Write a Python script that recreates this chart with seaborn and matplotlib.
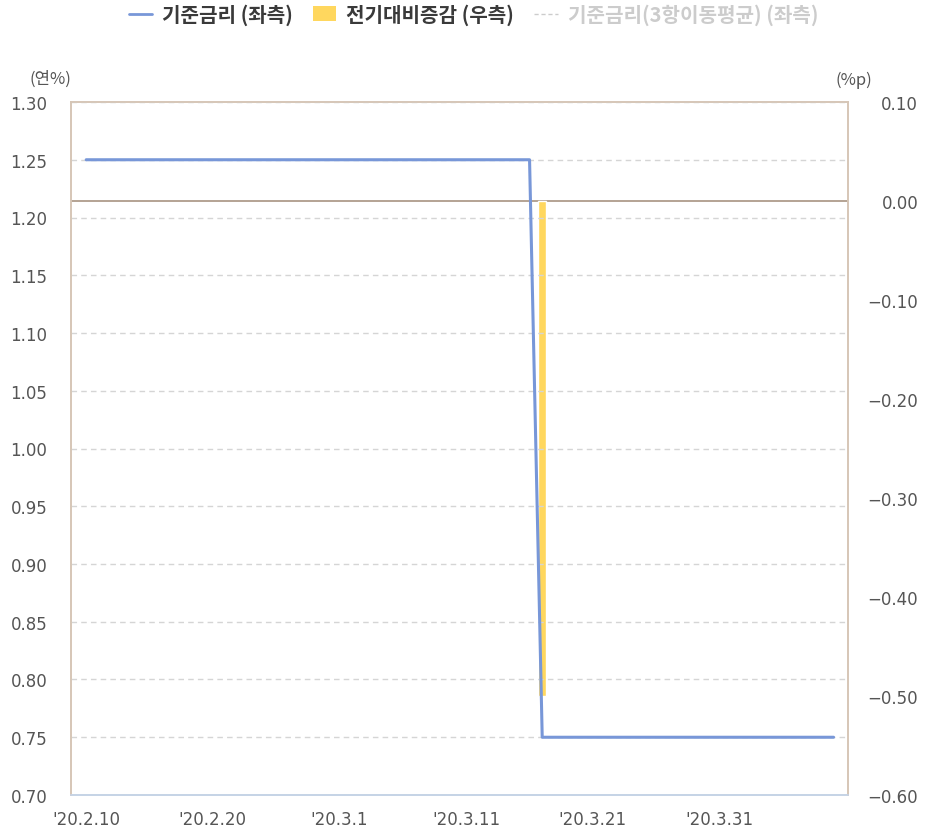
import matplotlib
matplotlib.use("Agg")
import matplotlib.pyplot as plt
from matplotlib.lines import Line2D
from matplotlib.patches import Patch
import pandas as pd
import seaborn as sns

# Base rate (daily), left axis, % per year
dates = pd.date_range("2020-02-10", "2020-04-09", freq="D")
base_rate = [1.25] * 36 + [0.75] * 24

# Change vs previous period, right axis, %p
change_dates = pd.to_datetime(["2020-03-17"])
change_values = [-0.50]

x_tick_dates = pd.to_datetime(["2020-02-10", "2020-02-20", "2020-03-01", "2020-03-11",
                               "2020-03-21", "2020-03-31", "2020-04-10"])
x_tick_labels = ["'20.2.10", "'20.2.20", "'20.3.1", "'20.3.11", "'20.3.21", "'20.3.31", ""]
left_ticks = [0.70, 0.75, 0.80, 0.85, 0.90, 0.95, 1.00, 1.05, 1.10, 1.15, 1.20, 1.25, 1.30]
right_ticks = [0.10, 0.00, -0.10, -0.20, -0.30, -0.40, -0.50, -0.60]

legend_labels = ["기준금리 (좌측)", "전기대비증감 (우측)", "기준금리(3항이동평균) (좌측)"]

sns.set_theme(style="white")
plt.rcParams["font.family"] = ["DejaVu Sans", "Noto Sans CJK KR"]
plt.rcParams["axes.unicode_minus"] = True

LINE_C = "#7897d8"
BAR_C = "#ffd75e"
FRAME_C = "#d6c6b6"
TICK_C = "#555555"

fig = plt.figure(figsize=(9.25, 8.29), dpi=100)
ax = fig.add_axes([71 / 925, 1 - 796 / 829, (848 - 71) / 925, (796 - 103) / 829])
ax2 = ax.twinx()

df = pd.DataFrame({"date": dates, "rate": base_rate})
dfc = pd.DataFrame({"date": change_dates, "change": change_values})

# Bars on the right axis
ax2.bar(dfc["date"], dfc["change"], width=0.6, color=BAR_C, zorder=2)
ax2.axhline(0, color="#a89482", lw=1.2, zorder=1)

# Line on the left axis, drawn above the bars
ax.set_zorder(ax2.get_zorder() + 1)
ax.patch.set_visible(False)
ax2.set_facecolor("#fafafa")
sns.lineplot(data=df, x="date", y="rate", ax=ax, color=LINE_C, lw=2.2, zorder=3)

start = pd.Timestamp("2020-02-10")
ax.set_xlim(start - pd.Timedelta(days=1.2), start + pd.Timedelta(days=60.14))
ax.set_ylim(0.70, 1.30)
ax2.set_ylim(-0.60, 0.10)

ax.set_yticks(left_ticks)
ax.set_yticklabels([f"{v:.2f}" for v in left_ticks])
ax2.set_yticks(right_ticks)
ax2.set_yticklabels([f"{v:.2f}".replace("-", "\u2212") for v in right_ticks], ha="right")

ax.set_xticks(x_tick_dates)
ax.set_xticklabels(x_tick_labels)

# Dashed grid follows the left-axis ticks; bars/zero line live on the right axis
ax2.yaxis.grid(False)
ax2.xaxis.grid(False)
ax.xaxis.grid(False)
ax.yaxis.grid(True, color="#d5d5d5", ls=(0, (4, 3)), lw=1)

ax.set_xlabel("")
ax.set_ylabel("")

ax.tick_params(axis="y", length=0, pad=17, labelsize=12, labelcolor=TICK_C)
ax.tick_params(axis="x", length=6, width=1, color="#c5d3e6", pad=5, labelsize=12,
               labelcolor=TICK_C)
ax2.tick_params(axis="y", length=0, pad=50.5, labelsize=12, labelcolor=TICK_C)

for a in (ax, ax2):
    for side in ("left", "right", "top"):
        a.spines[side].set_color(FRAME_C)
        a.spines[side].set_linewidth(1.2)
    a.spines["bottom"].set_color("#c5d3e6")
    a.spines["bottom"].set_linewidth(1.2)

fig.text(50 / 925, 1 - 79 / 829, "(연%)", ha="center", va="center", fontsize=12,
         color=TICK_C, family=["Noto Sans CJK KR", "DejaVu Sans"])
fig.text(854 / 925, 1 - 80 / 829, "(%p)", ha="center", va="center", fontsize=12,
         color=TICK_C, family=["Noto Sans CJK KR", "DejaVu Sans"])

handles = [
    Line2D([0], [0], color=LINE_C, lw=2),
    Patch(facecolor=BAR_C, edgecolor="none"),
    Line2D([0], [0], color="#cccccc", lw=1, ls=(0, (3, 2))),
]
leg = fig.legend(handles, legend_labels, loc="center", bbox_to_anchor=(0.512, 1 - 15 / 829),
                 ncol=3, frameon=False, handlelength=1.15, handletextpad=0.5,
                 columnspacing=1.0, prop={"family": ["Noto Sans CJK KR", "DejaVu Sans"],
                                          "size": 14.5, "weight": "bold"})
for txt, col in zip(leg.get_texts(), ["#3a3a3a", "#3a3a3a", "#cccccc"]):
    txt.set_color(col)

fig.savefig("out.png", dpi=100, facecolor="white")
